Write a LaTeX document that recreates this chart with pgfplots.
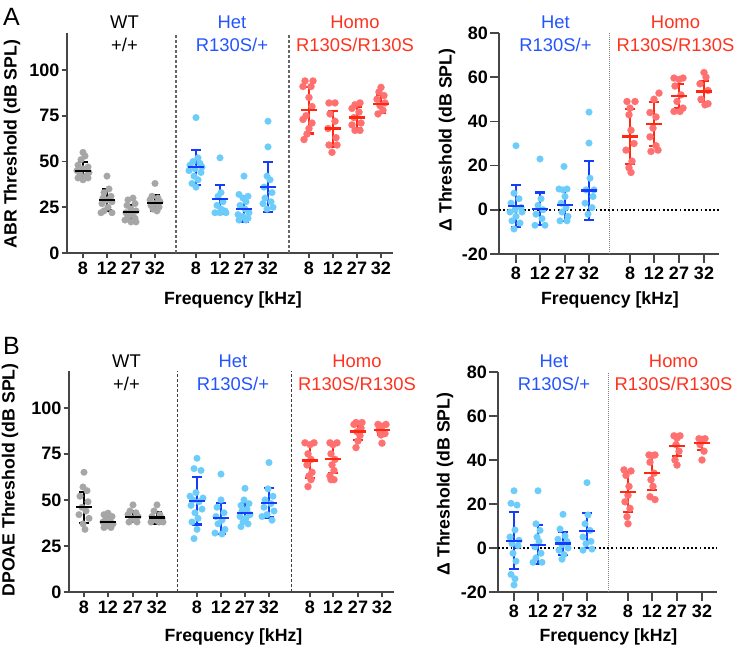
\documentclass[border=0pt]{standalone}
\usepackage{fontspec}
\setmainfont{Liberation Sans}
\usepackage{pgfplots}
\pgfplotsset{compat=1.18}
\definecolor{axgray}{RGB}{70,70,70}
\definecolor{wtdot}{RGB}{166,166,166}
\definecolor{hetdot}{RGB}{108,204,250}
\definecolor{homodot}{RGB}{255,112,112}
\definecolor{hetbar}{RGB}{20,60,250}
\definecolor{homobar}{RGB}{255,40,15}
\definecolor{hettxt}{RGB}{35,85,255}
\definecolor{homotxt}{RGB}{255,50,30}
\newcommand\lab{\bfseries\fontsize{17.7}{20}\selectfont}
\newcommand\grp{\fontsize{18.4}{20}\selectfont}
\pgfplotsset{
  panel/.style={scale only axis, axis lines=left, clip=false,
    axis line style={-, line width=1.6pt, draw=axgray},
    tick style={line width=1.6pt, draw=axgray},
    tick align=outside,
    ticklabel style={font=\bfseries\fontsize{18}{18}\selectfont},
    yticklabel style={inner xsep=2pt},
    minor tick num=0},
  dots/.style={only marks, mark=*, mark size=3.4pt, color=#1, fill=#1, mark options={solid, line width=0.1pt, draw=#1, fill=#1}},
  bars/.style={only marks, mark=-, mark size=8pt, color=#1, mark options={solid, line width=2.2pt},
    error bars/.cd, y dir=both, y explicit,
    error bar style={line width=2.2pt, color=#1, solid},
    error mark=|, error mark options={solid, line width=2.2pt, mark size=5pt, color=#1}},
}
\begin{document}
\begin{tikzpicture}
\useasboundingbox (0,0) rectangle (734pt,652pt);
% ---------------- A left
\begin{axis}[panel, at={(67pt,399pt)}, anchor=south west, width=326pt, height=219.6pt,
  xmin=67, xmax=393, ymin=0, ymax=120, major tick length=5.5pt,
  xtick={83,107,131,155,196,220,244,268,309,333,357,381},
  xticklabels={8,12,27,32,8,12,27,32,8,12,27,32},
  ytick={0,25,50,75,100}, yticklabels={0,25,50,75,100}]
\addplot[black!60, dash pattern=on 3pt off 2pt, line width=1.1pt] coordinates {(176,0) (176,120)};
\addplot[black!60, dash pattern=on 3pt off 2pt, line width=1.1pt] coordinates {(289,0) (289,120)};
\addplot[dots=wtdot] coordinates {
(83,55) (85,53) (81,51) (78,48) (88,47) (83,46) (77,45) (89,44) (80,43) (86,42) (78,41) (88,41) (83,40)
(107,42) (109,35) (104,33) (111,31) (103,30) (107,29) (112,28) (102,27) (108,25) (104,23) (101,22) (112,22)
(133,30) (128,29) (135,27) (127,26) (131,24) (136,23) (126,22) (132,21) (128,20) (135,19) (125,18) (131,17) (136,17)
(155,38) (152,31) (158,30) (150,29) (160,28) (155,27) (151,26) (159,25) (153,24) (157,23)};
\addplot[dots=hetdot] coordinates {
(196,74) (198,52) (193,50) (200,49) (190,48) (202,47) (195,46) (189,45) (201,44) (194,42) (198,40) (192,38) (196,36)
(220,52) (221,33) (218,31) (223,28) (217,26) (221,24) (225,23) (215,22) (220,22) (226,22)
(244,42) (239,32) (248,31) (243,30) (246,28) (240,26) (245,24) (249,22) (238,21) (243,20) (248,19) (239,18) (246,18)
(268,72) (268,58) (267,42) (270,40) (264,36) (272,33) (265,30) (271,28) (263,27) (273,25) (267,24)};
\addplot[dots=homodot, mark size=3.6pt] coordinates {
(305,94) (313,94) (303,91) (311,91) (309,85) (312,80) (306,75) (303,73) (312,71) (309,68) (307,65) (304,62)
(329,82) (335,82) (330,76) (335,72) (328,68) (336,63) (329,59) (337,59) (332,55)
(360,82) (355,81) (352,79) (359,77) (354,74) (361,71) (352,70) (355,67) (360,67)
(381,90.5) (379,88) (384,86) (377,84) (385,82) (380,80.5) (383,78) (378,76)};
\addplot[bars=black] coordinates {(83,45) +- (0,4.7) (107,29) +- (0,5.8) (131,22.3) +- (0,3.9) (155,27.5) +- (0,4.3)};
\addplot[bars=hetbar] coordinates {(196,46.8) +- (0,9.5) (220,29.3) +- (0,7.8) (244,24.2) +- (0,7) (268,36.2) +- (0,13.6)};
\addplot[bars=homobar] coordinates {(309,78.1) +- (0,12.8) (333,68) +- (0,9.8) (357,74) +- (0,5.7) (381,81.6) +- (0,5)};
\end{axis}
% ---------------- A right
\begin{axis}[panel, at={(499pt,398pt)}, anchor=south west, width=220pt, height=221pt,
  xmin=499, xmax=719, ymin=-20, ymax=80, major tick length=9pt,
  xtick={516,540,565,589,630,654,679,704},
  xticklabels={8,12,27,32,8,12,27,32},
  ytick={-20,0,20,40,60,80}, yticklabels={-20,0,20,40,60,80}]
\addplot[gray, dash pattern=on 1pt off 1pt, line width=0.6pt] coordinates {(609,-20) (609,80)};
\addplot[black, dash pattern=on 1.8pt off 2.4pt, line width=1.8pt] coordinates {(499,0) (719,0)};
\addplot[dots=hetdot] coordinates {
(516,29) (514,7.5) (519,5) (511,3) (521,1) (515,0) (510,-1) (522,-1) (516,-3) (512,-5) (520,-6) (514,-8.7)
(540,23) (541,5) (538,2) (543,0) (536,-2) (542,-4) (535,-7) (545,-7)
(564,19.6) (559,9.4) (567,9.4) (563,9) (565,6) (561,3) (566,1) (562,-1) (568,-3) (560,-5) (567,-5)
(589,44.2) (589,30.2) (590,14.3) (586,9) (593,6) (585,3) (592,1) (588,-2) (594,9)};
\addplot[dots=homodot, mark size=3.6pt] coordinates {
(627,49) (635,49) (630,46) (629,43) (631,36) (634,30) (626,27) (632,22) (629,19) (631,16.9)
(659,52.8) (654,50) (650,44) (656,42) (653,37) (650,33) (656,29) (651,26.4) (658,27)
(674,59.6) (683,59.6) (679,59) (675,56) (681,52) (677,49) (683,46) (674,44.5) (680,44.5)
(704,62.1) (706,60) (700,57) (708,54) (701,50) (705,47.5) (708,48)};
\addplot[bars=hetbar] coordinates {(516,1.8) +- (0,9.5) (540,0.45) +- (0,7.4) (565,2) +- (0,6.9) (589,8.7) +- (0,13.5)};
\addplot[bars=homobar] coordinates {(630,33.2) +- (0,12.4) (654,38.8) +- (0,9.8) (679,51.6) +- (0,5.5) (704,53.5) +- (0,4.8)};
\end{axis}
% ---------------- B left
\begin{axis}[panel, at={(69pt,60pt)}, anchor=south west, width=325pt, height=221pt,
  xmin=69, xmax=394, ymin=0, ymax=120, major tick length=5.5pt,
  xtick={84,108,133,157,197,221,245,269,310,333,358,382},
  xticklabels={8,12,27,32,8,12,27,32,8,12,27,32},
  ytick={0,25,50,75,100}, yticklabels={0,25,50,75,100}]
\addplot[black!75, dash pattern=on 3pt off 2pt, line width=0.9pt] coordinates {(177,0) (177,120)};
\addplot[black!75, dash pattern=on 3pt off 2pt, line width=0.9pt] coordinates {(291,0) (291,120)};
\addplot[dots=wtdot] coordinates {
(84,65) (83,57) (87,55) (80,52) (88,49) (82,46) (86,44) (79,42) (89,40) (83,37) (85,34)
(108,42.8) (104,42) (112,41) (106,40) (110,39) (103,38) (113,37) (107,36) (104,35) (111,35)
(133,47.3) (130,44) (136,43) (128,42) (138,41) (132,40) (135,39) (129,38) (137,38)
(157,47.3) (154,44) (160,42) (152,41) (162,40) (156,39) (159,38) (151,38) (163,38)};
\addplot[dots=hetdot] coordinates {
(197,72.6) (194,67) (201,66) (196,54) (190,52) (203,51) (193,50) (199,49) (191,47) (202,45) (195,43) (198,40) (192,38) (197,34) (194,29)
(221,64) (221,50) (217,46) (224,43) (216,41) (222,39) (218,37) (225,34) (215,32) (222,31.5)
(245,56.3) (244,50) (249,48) (241,47) (247,45) (242,44) (250,42) (240,41) (246,40) (243,38) (248,37) (241,35.5)
(269,70.3) (268,56) (273,52) (265,50) (271,48) (264,46) (274,44) (267,42) (262,41) (272,39)};
\addplot[dots=homodot, mark size=3.6pt] coordinates {
(305,81) (314,81) (310,80) (308,75) (311,72) (307,69) (312,65) (309,63) (311,61) (308,57.2)
(330,81) (337,81) (333,80) (331,75) (335,72) (332,69) (334,66) (330,63) (334,61) (331,61)
(356,92) (362,92) (354,91) (361,89) (357,87) (360,85) (358,82) (356,78.4)
(378,91) (386,91) (382,90) (379,88) (385,86) (381,85.3) (382,80.8)};
\addplot[bars=black] coordinates {(84,46) +- (0,8.5) (108,38.2) +- (0,2.7) (133,40.9) +- (0,2.8) (157,40.4) +- (0,3.2)};
\addplot[bars=hetbar] coordinates {(197,49.6) +- (0,12.9) (221,40) +- (0,8.5) (245,43.1) +- (0,5.2) (269,48.5) +- (0,8)};
\addplot[bars=homobar] coordinates {(310,71.4) +- (0,9.3) (333,72.1) +- (0,7.6) (358,87.1) +- (0,4.7) (382,88) +- (0,2.5)};
\end{axis}
% ---------------- B right
\begin{axis}[panel, at={(498pt,60pt)}, anchor=south west, width=219pt, height=220pt,
  xmin=498, xmax=717, ymin=-20, ymax=80, major tick length=9pt,
  xtick={514,538,563,587,628,652,677,702},
  xticklabels={8,12,27,32,8,12,27,32},
  ytick={-20,0,20,40,60,80}, yticklabels={-20,0,20,40,60,80}]
\addplot[gray, dash pattern=on 1pt off 1pt, line width=0.6pt] coordinates {(608,-20) (608,80)};
\addplot[black, dash pattern=on 1.8pt off 2.4pt, line width=1.8pt] coordinates {(498,0) (717,0)};
\addplot[dots=hetdot] coordinates {
(514,26) (511,20.3) (517,19.5) (515,8.2) (510,5) (519,3.5) (512,2) (518,1) (513,-2.4) (516,-6) (511,-12) (515,-14) (514,-16.8)
(538,26) (536,11) (540,8) (537,5) (539,3) (535,0.5) (541,-2.4) (536,-4.5) (533,-6.5) (542,-6.5)
(563,15.3) (560,8.6) (565,5.5) (558,4) (567,3) (562,1.5) (568,0) (559,-1) (564,-3) (562,-5.1)
(587,29.7) (588,15) (585,11) (590,8) (583,5) (591,3) (586,2) (583,-1) (592,-0.5)};
\addplot[dots=homodot, mark size=3.6pt] coordinates {
(624,35.5) (631,35) (626,33) (629,28) (628,24) (625,21) (630,18) (627,14.2) (628,11)
(649,42.3) (655,42.3) (652,42) (650,39) (654,34) (651,31) (653,28) (650,23.3) (655,22)
(674,51) (680,51) (677,50) (676,47) (679,44) (675,40) (677,37.7)
(699,49.7) (705,49.7) (702,49) (700,47) (704,44) (702,40)};
\addplot[bars=hetbar] coordinates {(514,3.3) +- (0,12.9) (538,1.5) +- (0,8.9) (563,2) +- (0,5.1) (587,7.9) +- (0,8)};
\addplot[bars=homobar] coordinates {(628,25.3) +- (0,9.1) (652,34) +- (0,7.5) (677,46.5) +- (0,4.6) (702,47.6) +- (0,2.9)};
\end{axis}
% ---------------- texts
\node[font=\fontsize{25}{25}\selectfont] at (11.5pt,635pt) {A};
\node[font=\fontsize{25}{25}\selectfont] at (11.5pt,306pt) {B};
% A group labels
\node[anchor=base, font=\grp] at (124.5pt,623pt) {WT};
\node[anchor=base, font=\grp] at (124.5pt,600pt) {+/+};
\node[anchor=base, font=\grp, text=hettxt] at (232pt,623pt) {Het};
\node[anchor=base, font=\grp, text=hettxt] at (232pt,600pt) {R130S/+};
\node[anchor=base, font=\grp, text=homotxt] at (355pt,623pt) {Homo};
\node[anchor=base, font=\grp, text=homotxt] at (355pt,600pt) {R130S/R130S};
\node[anchor=base, font=\grp, text=hettxt] at (555.5pt,623pt) {Het};
\node[anchor=base, font=\grp, text=hettxt] at (555.5pt,600pt) {R130S/+};
\node[anchor=base, font=\grp, text=homotxt] at (675.5pt,623pt) {Homo};
\node[anchor=base, font=\grp, text=homotxt] at (675.5pt,600pt) {R130S/R130S};
% B group labels
\node[anchor=base, font=\grp] at (126.5pt,284pt) {WT};
\node[anchor=base, font=\grp] at (126.5pt,261pt) {+/+};
\node[anchor=base, font=\grp, text=hettxt] at (233pt,284pt) {Het};
\node[anchor=base, font=\grp, text=hettxt] at (233pt,261pt) {R130S/+};
\node[anchor=base, font=\grp, text=homotxt] at (357pt,284pt) {Homo};
\node[anchor=base, font=\grp, text=homotxt] at (357pt,261pt) {R130S/R130S};
\node[anchor=base, font=\grp, text=hettxt] at (554pt,284pt) {Het};
\node[anchor=base, font=\grp, text=hettxt] at (554pt,261pt) {R130S/+};
\node[anchor=base, font=\grp, text=homotxt] at (673.5pt,284pt) {Homo};
\node[anchor=base, font=\grp, text=homotxt] at (673.5pt,261pt) {R130S/R130S};
% axis labels
\node[anchor=base, font=\lab] at (233pt,347pt) {Frequency [kHz]};
\node[anchor=base, font=\lab] at (610pt,347pt) {Frequency [kHz]};
\node[anchor=base, font=\lab] at (233.5pt,10pt) {Frequency [kHz]};
\node[anchor=base, font=\lab] at (608.5pt,10pt) {Frequency [kHz]};
\node[rotate=90, font=\lab] at (12pt,508pt) {ABR Threshold (dB SPL)};
\node[rotate=90, font=\lab] at (447pt,512pt) {Δ Threshold (dB SPL)};
\node[rotate=90, font=\lab] at (10pt,172pt) {DPOAE Threshold (dB SPL)};
\node[rotate=90, font=\lab] at (445pt,168pt) {Δ Threshold (dB SPL)};
\end{tikzpicture}
\end{document}
